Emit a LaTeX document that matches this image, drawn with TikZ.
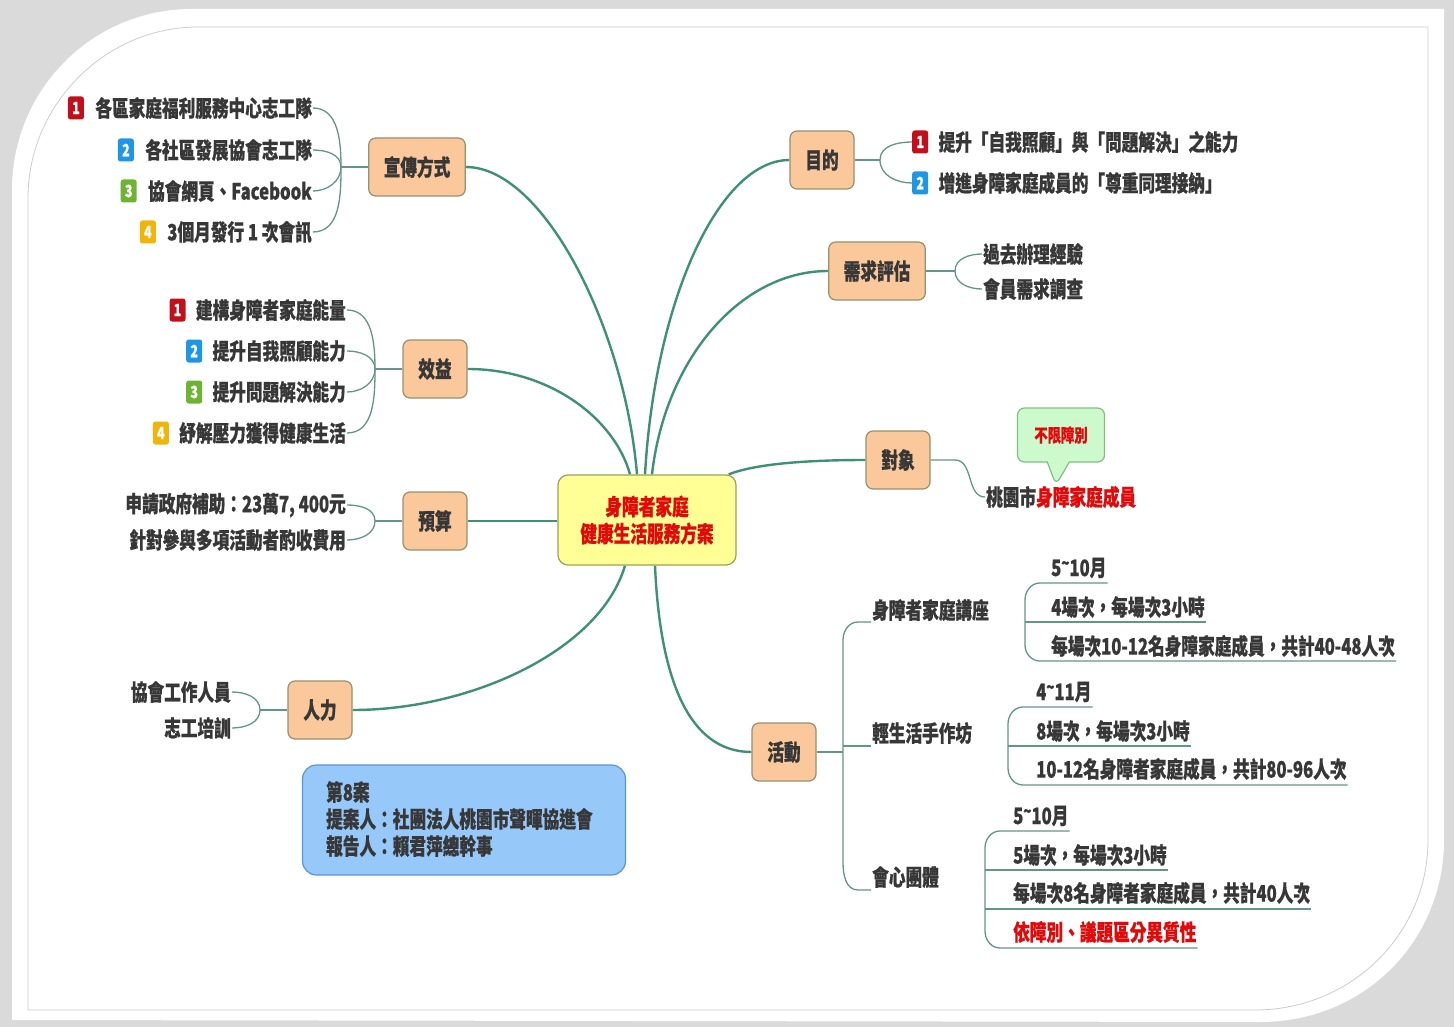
\documentclass[tikz,border=0pt]{standalone}
\usepackage{fontspec}
\setmainfont{Noto Sans CJK TC}[FakeStretch=0.74, BoldFeatures={FakeBold=0.6}]
\usetikzlibrary{positioning,shapes.callouts,backgrounds}
\definecolor{conn}{RGB}{62,145,118}
\definecolor{conn2}{RGB}{100,150,132}
\definecolor{brfill}{RGB}{250,200,155}
\definecolor{brborder}{RGB}{150,145,110}
\definecolor{cfill}{RGB}{255,255,150}
\definecolor{cborder}{RGB}{150,165,85}
\definecolor{ctext}{RGB}{225,10,10}
\definecolor{txt}{RGB}{55,55,55}
\definecolor{bxfill}{RGB}{150,200,250}
\definecolor{bxborder}{RGB}{90,150,210}
\definecolor{clfill}{RGB}{205,250,205}
\definecolor{clborder}{RGB}{130,190,130}
\definecolor{bred}{RGB}{195,15,25}
\definecolor{bblue}{RGB}{30,150,230}
\definecolor{bgreen}{RGB}{110,180,50}
\definecolor{byellow}{RGB}{240,180,10}
\definecolor{bggray}{RGB}{218,218,218}
\definecolor{framegray}{RGB}{205,205,205}
\newcommand\myfs{\fontsize{22.5}{27}\selectfont\bfseries}
\newcommand\mysfs{\fontsize{18}{20}\selectfont\bfseries}
\newcommand\mybfs{\fontsize{17}{17}\selectfont\bfseries}
\newcommand\tld{\raisebox{0.28em}{\scalebox{0.8}{\textasciitilde}}}
\begin{document}
\begin{tikzpicture}[x=1pt,y=-1pt,
  branch/.style={draw=brborder, fill=brfill, rounded corners=7pt, line width=1.2pt,
    minimum width=64pt, minimum height=58pt, inner xsep=15pt, inner ysep=6pt, font=\myfs, text=txt},
  cnode/.style={draw=cborder, fill=cfill, rounded corners=10pt, line width=1.2pt,
    minimum width=178pt, minimum height=90pt, align=center, font=\myfs, text=ctext},
  item/.style={font=\myfs, text=txt, inner sep=1pt},
  badge/.style={fill=#1, rounded corners=2.5pt, minimum width=16pt, minimum height=23pt,
    inner sep=0pt, text=white, font=\mybfs},
  mline/.style={draw=conn, line width=2.4pt},
  bline/.style={draw=conn2, line width=1.3pt},
  bluebox/.style={draw=bxborder, fill=bxfill, rounded corners=14pt, line width=1.2pt,
    minimum width=323pt, minimum height=110pt},
  calloutbox/.style={rectangle callout, draw=clborder, fill=clfill, rounded corners=7pt,
    line width=1.2pt, minimum width=87pt, minimum height=54pt, font=\mysfs, text=ctext,
    callout pointer width=22pt}
]
\useasboundingbox (0,0) rectangle (1454,1027);

% ---------- central node ----------
\node[cnode] (c) at (647,520) {身障者家庭\\健康生活服務方案};

% ---------- branch nodes ----------
\node[branch] (xc) at (417,167) {宣傳方式};
\node[branch] (xy) at (435,369) {效益};
\node[branch] (ys) at (435,521) {預算};
\node[branch] (rl) at (320,710) {人力};
\node[branch] (md) at (822,160) {目的};
\node[branch] (xq) at (877,271) {需求評估};
\node[branch] (dx) at (898,460) {對象};
\node[branch] (hd) at (784,752) {活動};

% ---------- 宣傳方式 items ----------
\node[item, anchor=east] (x1) at (313,108) {各區家庭福利服務中心志工隊};
\node[item, anchor=east] (x2) at (313,150) {各社區發展協會志工隊};
\node[item, anchor=east] (x3) at (313,191) {協會網頁、Facebook};
\node[item, anchor=east] (x4) at (313,232) {3個月發行 1 次會訊};
\node[badge=bred,    left=10pt of x1] (x1b) {1};
\node[badge=bblue,   left=10pt of x2] (x2b) {2};
\node[badge=bgreen,  left=10pt of x3] (x3b) {3};
\node[badge=byellow, left=10pt of x4] (x4b) {4};
\coordinate (xj) at (341,167);

% ---------- 效益 items ----------
\node[item, anchor=east] (y1) at (347,310) {建構身障者家庭能量};
\node[item, anchor=east] (y2) at (347,351) {提升自我照顧能力};
\node[item, anchor=east] (y3) at (347,392) {提升問題解決能力};
\node[item, anchor=east] (y4) at (347,433) {紓解壓力獲得健康生活};
\node[badge=bred,    left=9pt of y1] (y1b) {1};
\node[badge=bblue,   left=9pt of y2] (y2b) {2};
\node[badge=bgreen,  left=9pt of y3] (y3b) {3};
\node[badge=byellow, left=9pt of y4] (y4b) {4};
\coordinate (yj) at (375,369);

% ---------- 預算 items ----------
\node[item, anchor=east] (s1) at (347,505) {申請政府補助：23萬7, 400元};
\node[item, anchor=east] (s2) at (347,540) {針對參與多項活動者酌收費用};
\coordinate (sj) at (375,521);

% ---------- 人力 items ----------
\node[item, anchor=east] (r1) at (232,692) {協會工作人員};
\node[item, anchor=east] (r2) at (232,728) {志工培訓};
\coordinate (rj) at (260,710);

% ---------- 目的 items ----------
\node[badge=bred,  anchor=west] (m1b) at (912,142) {1};
\node[badge=bblue, anchor=west] (m2b) at (912,183) {2};
\node[item, right=9pt of m1b] (m1) {提升「自我照顧」與「問題解決」之能力};
\node[item, right=9pt of m2b] (m2) {增進身障家庭成員的「尊重同理接納」};
\coordinate (mj) at (880,160);

% ---------- 需求評估 items ----------
\node[item, anchor=west] (q1) at (982,254) {過去辦理經驗};
\node[item, anchor=west] (q2) at (982,289) {會員需求調查};
\coordinate (qj) at (955,271);

% ---------- 對象 ----------
\node[item, anchor=west] (d1) at (985,497) {桃園市\textcolor{ctext}{身障家庭成員}};
\node[calloutbox, callout absolute pointer={(1056,485)}] (cl) at (1061,435) {不限障別};

% ---------- 活動 ----------
\node[item, anchor=west] (a1) at (871,610) {身障者家庭講座};
\node[item, anchor=west] (a2) at (871,733) {輕生活手作坊};
\node[item, anchor=west] (a3) at (871,877) {會心團體};

\node[item, anchor=west] (a11) at (1050,568) {5\tld10月};
\node[item, anchor=west] (a12) at (1050,607) {4場次，每場次3小時};
\node[item, anchor=west] (a13) at (1050,646) {每場次10-12名身障家庭成員，共計40-48人次};

\node[item, anchor=west] (a21) at (1035,692) {4\tld11月};
\node[item, anchor=west] (a22) at (1035,731) {8場次，每場次3小時};
\node[item, anchor=west] (a23) at (1035,769) {10-12名身障者家庭成員，共計80-96人次};

\node[item, anchor=west] (a31) at (1012,816) {5\tld10月};
\node[item, anchor=west] (a32) at (1012,855) {5場次，每場次3小時};
\node[item, anchor=west] (a33) at (1012,893) {每場次8名身障者家庭成員，共計40人次};
\node[item, anchor=west, text=ctext] (a34) at (1012,932) {依障別、議題區分異質性};

% ---------- info box ----------
\node[bluebox] (bx) at (464,820) {};
\node[item, anchor=west, align=left] (bxt) at (325,819) {第8案\\提案人：社團法人桃園市聲暉協進會\\報告人：賴君萍總幹事};

% ---------- background: frame and connectors ----------
\begin{scope}[on background layer]
  \fill[bggray] (0,0) rectangle (1454,1027);
  \fill[white] (12,1020) -- (12,190) .. controls (12,90) and (92,9) .. (192,9)
    -- (1444,9) -- (1444,840) .. controls (1444,940) and (1365,1022) .. (1260,1022) -- cycle;
  \draw[framegray, line width=0.8pt] (28,1010) -- (28,198) .. controls (28,105) and (105,27) .. (198,27)
    -- (1428,27) -- (1428,840) .. controls (1428,935) and (1350,1010) .. (1255,1010) -- cycle;

  % main connectors
  \draw[mline] (xc.east) .. controls +(78,0) and +(-12,-145) .. ([xshift=-10pt]c.north);
  \draw[mline] (xy.east) .. controls +(83,0) and +(-15,-55) .. ([xshift=-17pt]c.north);
  \draw[mline] (ys.east) -- (ys.east -| c.west);
  \draw[mline] (rl.east) .. controls +(118,0) and +(-25,85) .. ([xshift=-22pt]c.south);
  \draw[mline] (md.west) .. controls +(-70,0) and +(10,-175) .. ([xshift=-2pt]c.north);
  \draw[mline] (xq.west) .. controls +(-88,0) and +(13,-115) .. ([xshift=5pt]c.north);
  \draw[mline] (dx.west) .. controls +(-76,0) and +(20,-8) .. ([xshift=-8pt]c.north east);
  \draw[mline] (hd.west) .. controls +(-62,0) and +(5,115) .. ([xshift=8pt]c.south);

  % left brackets
  \draw[bline] (xc.west) -- (xj);
  \draw[bline] (xj) to[out=90,in=0] (x1.east);
  \draw[bline] (xj) to[out=90,in=0] (x2.east);
  \draw[bline] (xj) to[out=-90,in=0] (x3.east);
  \draw[bline] (xj) to[out=-90,in=0] (x4.east);

  \draw[bline] (xy.west) -- (yj);
  \draw[bline] (yj) to[out=90,in=0] (y1.east);
  \draw[bline] (yj) to[out=90,in=0] (y2.east);
  \draw[bline] (yj) to[out=-90,in=0] (y3.east);
  \draw[bline] (yj) to[out=-90,in=0] (y4.east);

  \draw[bline] (ys.west) -- (sj);
  \draw[bline] (sj) to[out=90,in=0] (s1.east);
  \draw[bline] (sj) to[out=-90,in=0] (s2.east);

  \draw[bline] (rl.west) -- (rj);
  \draw[bline] (rj) to[out=90,in=0] (r1.east);
  \draw[bline] (rj) to[out=-90,in=0] (r2.east);

  % right brackets
  \draw[bline] (md.east) -- (mj);
  \draw[bline] (mj) to[out=90,in=180] (m1b.west);
  \draw[bline] (mj) to[out=-90,in=180] (m2b.west);

  \draw[bline] (xq.east) -- (qj);
  \draw[bline] (qj) to[out=90,in=180] (q1.west);
  \draw[bline] (qj) to[out=-90,in=180] (q2.west);

  \draw[bline] (dx.east) -- (955,460) to[out=0,in=180] (d1.west);

  % 活動 tree
  \coordinate (hj) at (843,752);
  \draw[bline] (hd.east) -- (hj);
  \draw[bline] (a1.west |- 0,622) -- (858,622) to[out=180,in=90] (843,640) -- (843,862)
    to[out=-90,in=180] (858,890) -- (a3.west |- 0,890);
  \draw[bline] (843,746) -- (a2.west |- 0,746);

  % sub groups underlines
  \draw[bline] (a11.east |- 0,583) -- (1040,583) to[out=180,in=90] (1025,600) -- (1025,645)
    to[out=-90,in=180] (1040,661) -- (a13.east |- 0,661);
  \draw[bline] (1025,622) -- (a12.east |- 0,622);

  \draw[bline] (a21.east |- 0,707) -- (1023,707) to[out=180,in=90] (1008,724) -- (1008,768)
    to[out=-90,in=180] (1023,785) -- (a23.east |- 0,785);
  \draw[bline] (1008,746) -- (a22.east |- 0,746);

  \draw[bline] (a31.east |- 0,831) -- (1000,831) to[out=180,in=90] (985,848) -- (985,931)
    to[out=-90,in=180] (1000,948) -- (a34.east |- 0,948);
  \draw[bline] (985,870) -- (a32.east |- 0,870);
  \draw[bline] (985,909) -- (a33.east |- 0,909);
\end{scope}
\end{tikzpicture}
\end{document}
